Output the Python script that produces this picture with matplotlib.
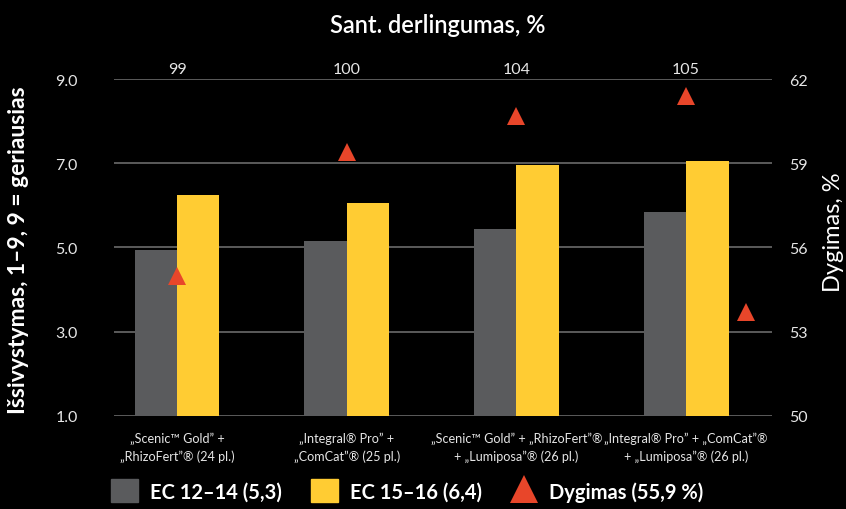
import matplotlib.pyplot as plt
from matplotlib.patches import Patch
from matplotlib.lines import Line2D
import numpy as np

categories = [
    "„Scenic™ Gold” +\n„RhizoFert”® (24 pl.)",
    "„Integral® Pro” +\n„ComCat”® (25 pl.)",
    "„Scenic™ Gold” + „RhizoFert”®\n+ „Lumiposa”® (26 pl.)",
    "„Integral® Pro” + „ComCat”®\n+ „Lumiposa”® (26 pl.)",
]
ec_12_14 = [4.95, 5.15, 5.45, 5.85]
ec_15_16 = [6.25, 6.05, 6.95, 7.05]
dygimas_x = [0, 1, 2, 3, 3.35]
dygimas = [55.0, 59.4, 60.7, 61.4, 53.7]
rel_yield = ["99", "100", "104", "105"]

left_ticks = [1.0, 3.0, 5.0, 7.0, 9.0]
right_ticks = [50, 53, 56, 59, 62]

GRAY = "#5a5b5d"
YELLOW = "#ffcc33"
RED = "#e8462a"
TXT = "#e6e6e6"
NARROW = ["Lato", "DejaVu Sans"]
BOLD = ["Lato", "DejaVu Sans"]

fig = plt.figure(figsize=(8.46, 5.10), dpi=100, facecolor="black")
ax = fig.add_axes([0.1348, 0.1824, 0.7777, 0.6607], facecolor="black")
x = np.arange(len(categories))
w = 0.25

ax.set_axisbelow(True)
ax.bar(x - w / 2, ec_12_14, width=w, color=GRAY, zorder=2)
ax.bar(x + w / 2, ec_15_16, width=w, color=YELLOW, zorder=2)
ax.set_xlim(-0.371, 3.506)
ax.set_ylim(1.0, 9.0)
ax.set_yticks(left_ticks)
ax.set_yticklabels([f"{t:.1f}" for t in left_ticks], family=NARROW, fontsize=11.5, color=TXT)
ax.grid(axis="y", color="#6a6a6a", linewidth=1.2, zorder=0)
ax.set_xticks(x)
ax.set_xticklabels(categories, family=NARROW, fontsize=9.1, color=TXT, linespacing=1.5)
ax.tick_params(axis="x", length=0, pad=11)
ax.tick_params(axis="y", length=0, pad=26)
for s in ax.spines.values():
    s.set_visible(False)

ax2 = ax.twinx()
ax2.plot(dygimas_x, dygimas, linestyle="none", marker="^", markersize=13,
         color=RED, markeredgewidth=0, zorder=3)
ax2.set_ylim(50, 62)
ax2.set_yticks(right_ticks)
ax2.set_yticklabels([str(t) for t in right_ticks], family=NARROW, fontsize=11.5, color=TXT)
ax2.tick_params(axis="y", length=0, pad=12)
for s in ax2.spines.values():
    s.set_visible(False)

ax3 = ax.secondary_xaxis("top")
ax3.set_xticks(x)
ax3.set_xticklabels(rel_yield, family=NARROW, fontsize=11.5, color=TXT)
ax3.tick_params(axis="x", length=0, pad=2)
ax3.spines["top"].set_visible(False)

fig.text(0.518, 0.950, "Sant. derlingumas, %", ha="center", va="center",
         family=BOLD, fontweight="semibold", fontsize=17, color="white")
fig.text(0.022, 0.51, "Išsivystymas, 1–9, 9 = geriausias", rotation=90, ha="center",
         va="center", family=BOLD, fontweight="bold", fontsize=16.5, color="white")
fig.text(0.985, 0.545, "Dygimas, %", rotation=90, ha="center", va="center",
         family=BOLD, fontsize=17, color="white")

handles = [
    Patch(color=GRAY, label="EC 12–14 (5,3)"),
    Patch(color=YELLOW, label="EC 15–16 (6,4)"),
    Line2D([], [], linestyle="none", marker="^", markersize=20, color=RED,
           markeredgewidth=0, label="Dygimas (55,9 %)"),
]
fig.legend(handles=handles, loc="lower left", bbox_to_anchor=(0.11, -0.022), ncol=3,
           frameon=False, handlelength=1.35, handleheight=1.35, handletextpad=0.6,
           columnspacing=1.4, prop={"family": BOLD, "weight": "bold", "size": 14.5},
           labelcolor="white")

fig.savefig("out.png", dpi=100, facecolor="black")
